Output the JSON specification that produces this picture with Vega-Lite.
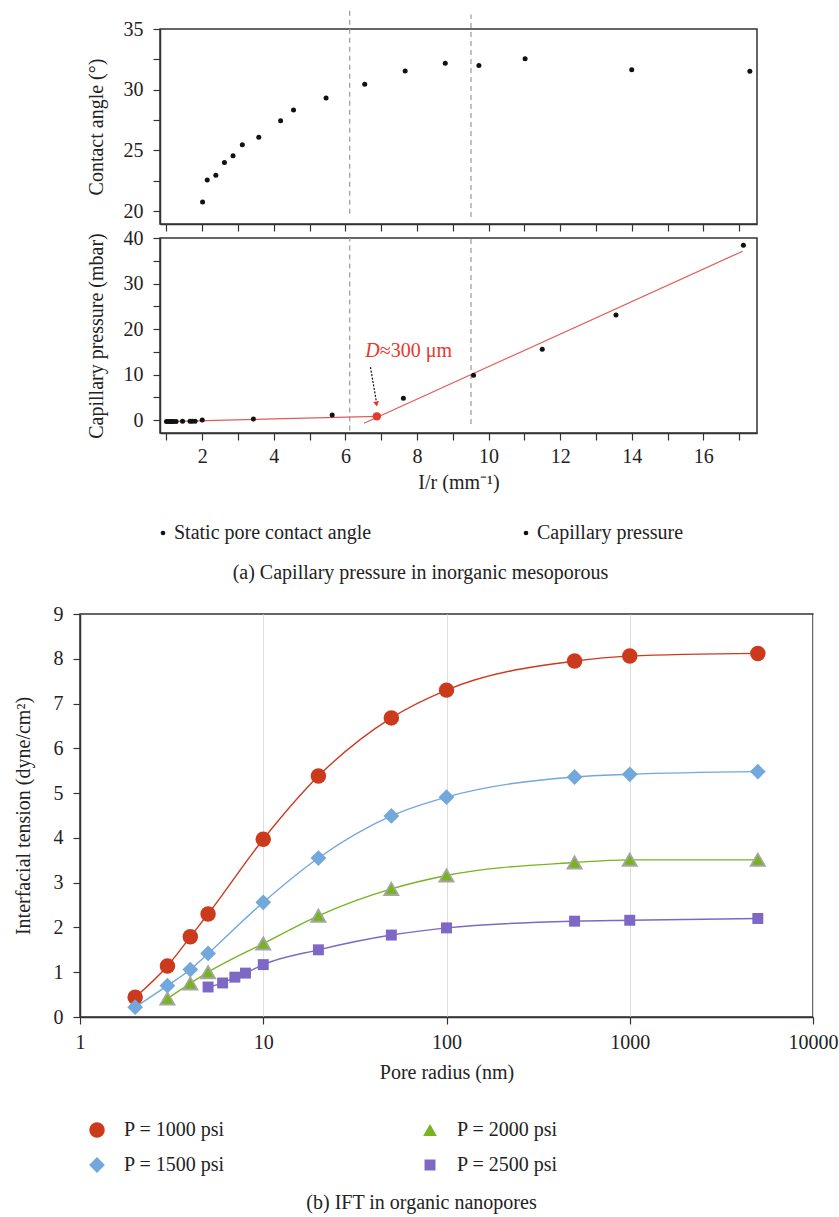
{
  "$schema": "https://vega.github.io/schema/vega-lite/v6.json",
  "background": "white",
  "padding": {"left": 12, "top": 8, "right": 5, "bottom": 2},
  "config": {
    "font": "Liberation Serif",
    "view": {"stroke": "#333", "strokeWidth": 1.5},
    "axis": {"labelFont": "Liberation Serif", "titleFont": "Liberation Serif", "labelColor": "#222", "titleColor": "#222", "titleFontWeight": "normal", "domainColor": "#333", "domainWidth": 1.5, "tickColor": "#333", "tickWidth": 1.2, "tickSize": 7, "grid": false, "labelFlush": false, "labelOverlap": false, "labelFontSize": 20, "titleFontSize": 20},
    "legend": {"labelFont": "Liberation Serif", "labelColor": "#222", "padding": 0, "labelFontSize": 20, "labelLimit": 0},
    "title": {"font": "Liberation Serif", "fontWeight": "normal", "color": "#222", "fontSize": 20}
  },
  "datasets": {
    "angle": [
      {"x": 2.01, "y": 20.75}, {"x": 2.14, "y": 22.55}, {"x": 2.38, "y": 22.95}, {"x": 2.62, "y": 24.0},
      {"x": 2.86, "y": 24.56}, {"x": 3.12, "y": 25.46}, {"x": 3.58, "y": 26.07}, {"x": 4.19, "y": 27.44},
      {"x": 4.55, "y": 28.32}, {"x": 5.46, "y": 29.31}, {"x": 6.54, "y": 30.44}, {"x": 7.67, "y": 31.54},
      {"x": 8.79, "y": 32.17}, {"x": 9.73, "y": 32.0}, {"x": 11.02, "y": 32.55}, {"x": 14.0, "y": 31.65},
      {"x": 17.3, "y": 31.51}
    ],
    "rulesTop": [{"x": 6.12, "y": 19.77, "y2": 36.55}, {"x": 9.51, "y": 19.5, "y2": 36.2}],
    "rulesBot": [{"x": 6.12, "y": -2.3, "y2": 40}, {"x": 9.51, "y": -0.9, "y2": 40}],
    "capillary": [
      {"x": 1.0, "y": -0.35, "series": "Capillary pressure"}, {"x": 1.05, "y": -0.35, "series": "Capillary pressure"},
      {"x": 1.1, "y": -0.35, "series": "Capillary pressure"}, {"x": 1.15, "y": -0.35, "series": "Capillary pressure"},
      {"x": 1.2, "y": -0.35, "series": "Capillary pressure"}, {"x": 1.27, "y": -0.35, "series": "Capillary pressure"},
      {"x": 1.45, "y": -0.3, "series": "Capillary pressure"}, {"x": 1.66, "y": -0.3, "series": "Capillary pressure"},
      {"x": 1.72, "y": -0.3, "series": "Capillary pressure"}, {"x": 1.8, "y": -0.3, "series": "Capillary pressure"},
      {"x": 2.0, "y": 0.0, "series": "Capillary pressure"}, {"x": 3.43, "y": 0.22, "series": "Capillary pressure"},
      {"x": 5.63, "y": 1.1, "series": "Capillary pressure"}, {"x": 7.62, "y": 4.77, "series": "Capillary pressure"},
      {"x": 9.58, "y": 9.83, "series": "Capillary pressure"}, {"x": 11.5, "y": 15.55, "series": "Capillary pressure"},
      {"x": 13.56, "y": 23.1, "series": "Capillary pressure"}, {"x": 17.12, "y": 38.4, "series": "Capillary pressure"}
    ],
    "fits": [
      {"seg": "a", "x": 1.0, "y": -0.35}, {"seg": "a", "x": 6.9, "y": 0.78},
      {"seg": "b", "x": 6.52, "y": -0.73}, {"seg": "b", "x": 17.1, "y": 37.1}
    ],
    "breakPoint": [{"x": 6.88, "y": 0.81}],
    "arrow": [{"x": 6.70, "y": 11.6}, {"x": 6.86, "y": 4.3}],
    "arrowHead": [{"x": 6.87, "y": 3.5}],
    "labD": [{"x": 6.96, "y": 15.1, "t": "D"}],
    "labRest": [{"x": 6.96, "y": 15.1, "t": "≈300 μm"}],
    "ift": [
      {"series": "P = 1000 psi", "r": 2, "ift": 0.44}, {"series": "P = 1000 psi", "r": 3, "ift": 1.14},
      {"series": "P = 1000 psi", "r": 4, "ift": 1.79}, {"series": "P = 1000 psi", "r": 5, "ift": 2.30},
      {"series": "P = 1000 psi", "r": 10, "ift": 3.97}, {"series": "P = 1000 psi", "r": 20, "ift": 5.38},
      {"series": "P = 1000 psi", "r": 50, "ift": 6.68}, {"series": "P = 1000 psi", "r": 100, "ift": 7.30},
      {"series": "P = 1000 psi", "r": 500, "ift": 7.95}, {"series": "P = 1000 psi", "r": 1000, "ift": 8.06},
      {"series": "P = 1000 psi", "r": 5000, "ift": 8.12},
      {"series": "P = 1500 psi", "r": 2, "ift": 0.22}, {"series": "P = 1500 psi", "r": 3, "ift": 0.70},
      {"series": "P = 1500 psi", "r": 4, "ift": 1.06}, {"series": "P = 1500 psi", "r": 5, "ift": 1.42},
      {"series": "P = 1500 psi", "r": 10, "ift": 2.56}, {"series": "P = 1500 psi", "r": 20, "ift": 3.55},
      {"series": "P = 1500 psi", "r": 50, "ift": 4.49}, {"series": "P = 1500 psi", "r": 100, "ift": 4.91},
      {"series": "P = 1500 psi", "r": 500, "ift": 5.36}, {"series": "P = 1500 psi", "r": 1000, "ift": 5.42},
      {"series": "P = 1500 psi", "r": 5000, "ift": 5.48},
      {"series": "P = 2000 psi", "r": 3, "ift": 0.41}, {"series": "P = 2000 psi", "r": 4, "ift": 0.75},
      {"series": "P = 2000 psi", "r": 5, "ift": 1.00}, {"series": "P = 2000 psi", "r": 10, "ift": 1.64},
      {"series": "P = 2000 psi", "r": 20, "ift": 2.26}, {"series": "P = 2000 psi", "r": 50, "ift": 2.86},
      {"series": "P = 2000 psi", "r": 100, "ift": 3.16}, {"series": "P = 2000 psi", "r": 500, "ift": 3.45},
      {"series": "P = 2000 psi", "r": 1000, "ift": 3.51}, {"series": "P = 2000 psi", "r": 5000, "ift": 3.51},
      {"series": "P = 2500 psi", "r": 5, "ift": 0.67}, {"series": "P = 2500 psi", "r": 6, "ift": 0.76},
      {"series": "P = 2500 psi", "r": 7, "ift": 0.89}, {"series": "P = 2500 psi", "r": 8, "ift": 0.98},
      {"series": "P = 2500 psi", "r": 10, "ift": 1.17}, {"series": "P = 2500 psi", "r": 20, "ift": 1.50},
      {"series": "P = 2500 psi", "r": 50, "ift": 1.83}, {"series": "P = 2500 psi", "r": 100, "ift": 1.99},
      {"series": "P = 2500 psi", "r": 500, "ift": 2.14}, {"series": "P = 2500 psi", "r": 1000, "ift": 2.16},
      {"series": "P = 2500 psi", "r": 5000, "ift": 2.20}
    ]
  },
  "resolve": {"scale": {"color": "independent", "shape": "independent", "size": "independent"}},
  "spacing": 19,
  "vconcat": [
    {
      "bounds": "flush",
      "spacing": 0,
      "resolve": {"scale": {"color": "independent"}},
      "hconcat": [
        {"width": 80, "height": 10, "view": {"stroke": null}, "data": {"values": [{"v": 0}]}, "mark": {"type": "point", "opacity": 0}},
        {
          "bounds": "flush",
          "spacing": 14,
          "resolve": {"scale": {"color": "independent"}},
          "vconcat": [
            {
              "width": 597,
              "height": 195,
              "encoding": {
                "x": {"field": "x", "type": "quantitative", "scale": {"domain": [0.82, 17.5], "nice": false, "zero": false},
                      "axis": {"values": [1,2,3,4,5,6,7,8,9,10,11,12,13,14,15,16,17], "labels": false, "title": null}},
                "y": {"field": "y", "type": "quantitative", "scale": {"domain": [18.93, 35], "nice": false, "zero": false},
                      "axis": {"values": [20, 22.5, 25, 27.5, 30, 32.5, 35], "labelExpr": "datum.value % 5 === 0 ? datum.label : ''", "title": "Contact angle (°)", "labelPadding": 10, "titlePadding": 17}}
              },
              "layer": [
                {"data": {"name": "rulesTop"}, "mark": {"type": "rule", "strokeDash": [5, 4], "color": "#9a9a9a", "strokeWidth": 1.2, "clip": false},
                 "encoding": {"y2": {"field": "y2"}}},
                {"data": {"name": "angle"}, "mark": {"type": "circle", "size": 25, "color": "#111", "opacity": 1}}
              ]
            },
            {
              "width": 597,
              "height": 195,
              "title": {"text": "(a) Capillary pressure in inorganic mesoporous", "orient": "bottom", "anchor": "middle", "frame": "group", "dx": -38, "offset": 20},
              "encoding": {
                "x": {"field": "x", "type": "quantitative", "scale": {"domain": [0.82, 17.5], "nice": false, "zero": false},
                      "axis": {"values": [1,2,3,4,5,6,7,8,9,10,11,12,13,14,15,16,17], "labelExpr": "datum.value % 2 === 0 ? datum.label : ''", "title": "I/r (mm⁻¹)", "labelPadding": 6, "titlePadding": 6}},
                "y": {"field": "y", "type": "quantitative", "scale": {"domain": [-2.857, 40], "nice": false, "zero": false},
                      "axis": {"values": [0, 5, 10, 15, 20, 25, 30, 35, 40], "labelExpr": "datum.value % 10 === 0 ? datum.label : ''", "title": "Capillary pressure (mbar)", "labelPadding": 10, "titlePadding": 17}}
              },
              "layer": [
                {"data": {"name": "rulesBot"}, "mark": {"type": "rule", "strokeDash": [5, 4], "color": "#9a9a9a", "strokeWidth": 1.2, "clip": false},
                 "encoding": {"y2": {"field": "y2"}}},
                {"data": {"name": "fits"}, "mark": {"type": "line", "color": "#e05a57", "strokeWidth": 1.2},
                 "encoding": {"detail": {"field": "seg", "type": "nominal"}}},
                {"data": {"name": "capillary"}, "mark": {"type": "circle", "size": 25, "opacity": 1},
                 "encoding": {"color": {"field": "series", "type": "nominal",
                   "scale": {"domain": ["Static pore contact angle", "Capillary pressure"], "range": ["#111", "#111"]},
                   "legend": {"orient": "none", "legendX": -7, "legendY": 285, "direction": "horizontal", "title": null, "symbolType": "circle", "symbolSize": 22, "labelOffset": 1, "columnPadding": 144, "symbolStrokeWidth": 0}}}},
                {"data": {"name": "breakPoint"}, "mark": {"type": "circle", "size": 70, "color": "#e8382c", "opacity": 1}},
                {"data": {"name": "arrow"}, "mark": {"type": "line", "color": "#111", "strokeWidth": 1.2, "strokeDash": [2, 1.5]}},
                {"data": {"name": "arrowHead"}, "mark": {"type": "point", "shape": "triangle-down", "filled": true, "size": 35, "color": "#e8382c", "opacity": 1, "angle": -10}},
                {"data": {"name": "labD"}, "mark": {"type": "text", "align": "right", "baseline": "middle", "fontStyle": "italic", "fontSize": 20, "color": "#e8382c"},
                 "encoding": {"text": {"field": "t"}}},
                {"data": {"name": "labRest"}, "mark": {"type": "text", "align": "left", "baseline": "middle", "fontSize": 20, "color": "#e8382c"},
                 "encoding": {"text": {"field": "t"}}}
              ]
            }
          ]
        }
      ]
    },
    {
      "width": 733,
      "height": 403,
      "data": {"name": "ift"},
      "title": {"text": "(b) IFT in organic nanopores", "orient": "bottom", "anchor": "middle", "frame": "group", "dx": -25, "offset": 18},
      "encoding": {
        "x": {"field": "r", "type": "quantitative", "scale": {"type": "log", "domain": [1, 10000], "nice": false},
              "axis": {"values": [1, 10, 100, 1000, 10000], "format": "d", "title": "Pore radius (nm)", "grid": true, "gridColor": "#dedede", "labelPadding": 8, "titlePadding": 10}},
        "y": {"field": "ift", "type": "quantitative", "scale": {"domain": [0, 9], "nice": false, "zero": false},
              "axis": {"values": [0, 1, 2, 3, 4, 5, 6, 7, 8, 9], "title": "Interfacial tension (dyne/cm²)", "labelPadding": 10, "titlePadding": 20}}
      },
      "layer": [
        {"transform": [{"filter": "datum.series === 'P = 1000 psi'"}], "mark": {"type": "line", "interpolate": "monotone", "strokeWidth": 1.4, "color": "#cc3a1e"}},
        {"transform": [{"filter": "datum.series === 'P = 1500 psi'"}], "mark": {"type": "line", "interpolate": "monotone", "strokeWidth": 1.4, "color": "#72a8dc"}},
        {"transform": [{"filter": "datum.series === 'P = 2000 psi'"}], "mark": {"type": "line", "interpolate": "monotone", "strokeWidth": 1.4, "color": "#78b41f"}},
        {"transform": [{"filter": "datum.series === 'P = 2500 psi'"}], "mark": {"type": "line", "interpolate": "monotone", "strokeWidth": 1.4, "color": "#7d68c6"}},
        {"mark": {"type": "point", "filled": true, "opacity": 1},
         "encoding": {
           "color": {"field": "series", "type": "nominal",
             "scale": {"domain": ["P = 1000 psi", "P = 1500 psi", "P = 2000 psi", "P = 2500 psi"], "range": ["#cc3a1e", "#72a8dc", "#78b41f", "#7d68c6"]},
             "legend": {"orient": "none", "legendX": 7, "legendY": 506, "columns": 2, "title": null, "rowPadding": 15, "columnPadding": 195, "labelOffset": 17}},
           "shape": {"field": "series", "type": "nominal",
             "scale": {"domain": ["P = 1000 psi", "P = 1500 psi", "P = 2000 psi", "P = 2500 psi"], "range": ["circle", "diamond", "triangle-up", "square"]},
             "legend": {"orient": "none", "legendX": 7, "legendY": 506, "columns": 2, "title": null, "rowPadding": 15, "columnPadding": 195, "labelOffset": 17}},
           "size": {"field": "series", "type": "nominal",
             "scale": {"type": "ordinal", "domain": ["P = 1000 psi", "P = 1500 psi", "P = 2000 psi", "P = 2500 psi"], "range": [240, 250, 190, 120]},
             "legend": {"orient": "none", "legendX": 7, "legendY": 506, "columns": 2, "title": null, "rowPadding": 15, "columnPadding": 195, "labelOffset": 17}}
         }},
        {"transform": [{"filter": "datum.series === 'P = 2000 psi'"}],
         "mark": {"type": "point", "filled": false, "opacity": 1, "strokeWidth": 2, "shape": "triangle-up", "size": 190, "color": "#a6a6a6"}},
        {"transform": [{"filter": "datum.series === 'P = 2000 psi'"}],
         "mark": {"type": "point", "filled": true, "opacity": 1, "shape": "triangle-up", "size": 110, "color": "#78b41f"}}
      ]
    }
  ]
}
